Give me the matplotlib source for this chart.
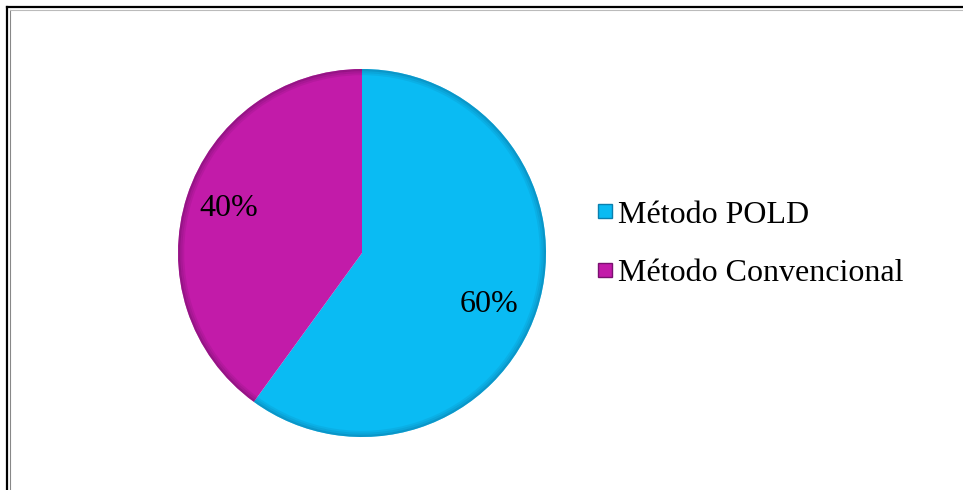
import matplotlib
matplotlib.use("Agg")
import matplotlib.pyplot as plt
from matplotlib.lines import Line2D
from matplotlib.patches import Wedge

labels = ["Método POLD", "Método Convencional"]
values = [60, 40]
pct_text = ["60%", "40%"]
colors = ["#0abbf3", "#c21ba9"]
edge_colors = ["#0a7fae", "#7a1070"]

plt.rcParams["font.family"] = ["Liberation Serif", "DejaVu Serif"]

W, H = 963, 490
fig = plt.figure(figsize=(W / 100, H / 100), dpi=100)
ax = fig.add_axes([0, 0, 1, 1])

cx, cy, r = 362, H - 253, 184
wedges, _ = ax.pie(values, colors=colors, startangle=90, counterclock=False,
                   center=(cx, cy), radius=r, frame=True,
                   wedgeprops=dict(linewidth=0))
# darker rim to mimic the bevel
for w, ec in zip(wedges, edge_colors):
    for k, a in enumerate([0.6, 0.35, 0.18]):
        ring = Wedge((cx, cy), r - 2 * k, w.theta1, w.theta2, width=2.2,
                     facecolor=ec, edgecolor="none", alpha=a)
        ax.add_patch(ring)
ax.set_xlim(0, W)
ax.set_ylim(0, H)
ax.set_aspect("equal")
ax.axis("off")

# percentage labels
ax.text(489, H - 304, pct_text[0], fontsize=23, ha="center", va="center")
ax.text(229, H - 209, pct_text[1], fontsize=23, ha="center", va="center")

handles = [Line2D([], [], marker="s", linestyle="none", markersize=10.5,
                  markerfacecolor=c, markeredgecolor=ec, markeredgewidth=1)
           for c, ec in zip(colors, edge_colors)]
ax.legend(handles, labels, loc="center left", bbox_to_anchor=(581 / W, 1 - 244 / H),
          frameon=False, fontsize=23, handlelength=0.5, handletextpad=0.15,
          labelspacing=0.9, borderpad=0)

# figure border (top and left only visible)
fig.add_artist(Line2D([7 / W, 1], [1 - 7 / H, 1 - 7 / H], color="black", lw=1.6))
fig.add_artist(Line2D([7 / W, 7 / W], [0, 1 - 7 / H], color="black", lw=1.6))
fig.add_artist(Line2D([10 / W, 10 / W], [0, 1 - 10 / H], color="#888888", lw=0.8))
fig.add_artist(Line2D([10 / W, 1], [1 - 10 / H, 1 - 10 / H], color="#bbbbbb", lw=0.8))

fig.savefig("out.png", dpi=100)
